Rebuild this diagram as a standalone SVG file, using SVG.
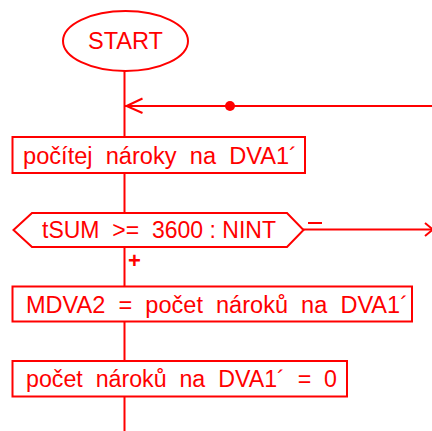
<svg xmlns="http://www.w3.org/2000/svg" width="432" height="431" viewBox="0 0 432 431">
<style>
.s{fill:#fff;stroke:#ff0000;stroke-width:2}
.l{fill:none;stroke:#ff0000;stroke-width:2}
.t{font-family:"Liberation Sans",Arial,sans-serif;font-size:23px;fill:#ff0000;white-space:pre}
</style>
<rect width="432" height="431" fill="#fff"/>
<g id="connectors">
<line class="l" x1="124.5" y1="71" x2="124.5" y2="431"/>
<line class="l" x1="124.5" y1="106" x2="432" y2="106"/>
<polyline class="l" points="142.5,98.5 126.5,106 142.5,113"/>
<circle cx="230" cy="106" r="5" fill="#ff0000"/>
<line class="l" x1="303" y1="229.5" x2="432" y2="229.5"/>
<polyline class="l" points="425,223 433,229.5 425,236"/>
<line class="l" x1="308" y1="223" x2="322" y2="223"/>
<text class="t" x="128" y="268" style="font-size:22px;font-weight:bold">+</text>
</g>
<g id="start">
<ellipse class="s" cx="125.5" cy="41" rx="62.5" ry="30"/>
<text class="t" x="88" y="49" textLength="75" lengthAdjust="spacingAndGlyphs">START</text>
</g>
<g id="n1">
<rect class="s" x="12.5" y="137" width="292.5" height="36"/>
<text class="t" x="23" y="163.5" textLength="274" lengthAdjust="spacingAndGlyphs">počítej  nároky  na  DVA1´</text>
</g>
<g id="d1">
<polygon class="s" points="13.5,230 32,213 287,213 303.5,230 287,247 32,247"/>
<text class="t" x="42" y="238" textLength="234" lengthAdjust="spacingAndGlyphs">tSUM  &gt;=  3600 : NINT</text>
</g>
<g id="n2">
<rect class="s" x="12.5" y="286.5" width="399.5" height="35"/>
<text class="t" x="26" y="312.5" textLength="382" lengthAdjust="spacingAndGlyphs">MDVA2  =  počet  nároků  na  DVA1´</text>
</g>
<g id="n3">
<rect class="s" x="12.5" y="361" width="334.5" height="35.5"/>
<text class="t" x="26" y="387" textLength="311" lengthAdjust="spacingAndGlyphs">počet  nároků  na  DVA1´  =  0</text>
</g>
</svg>
